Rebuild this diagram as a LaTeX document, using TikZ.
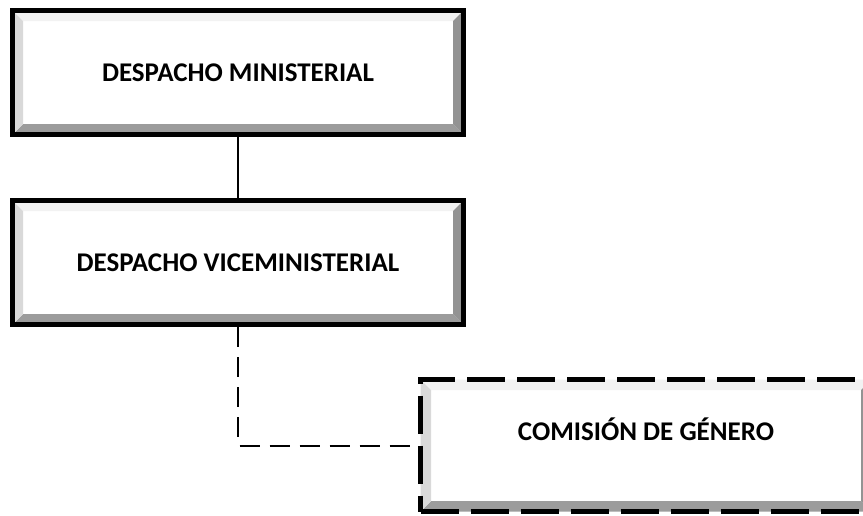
\documentclass[tikz,border=0pt]{standalone}
\usepackage{fontspec}
\setmainfont{Carlito}
\usetikzlibrary{positioning}

\definecolor{bevtop}{HTML}{F2F2F2}
\definecolor{bevleft}{HTML}{D9D9D9}
\definecolor{bevright}{HTML}{939393}
\definecolor{bevbottom}{HTML}{9C9C9C}

\begin{document}
\begin{tikzpicture}[
    x=1pt, y=-1pt,
    bevel/.style={path picture={
        \fill[bevtop] (path picture bounding box.north west) -- (path picture bounding box.north east)
            -- ([xshift=-#1,yshift=-#1]path picture bounding box.north east) -- ([xshift=#1,yshift=-#1]path picture bounding box.north west) -- cycle;
        \fill[bevbottom] (path picture bounding box.south west) -- (path picture bounding box.south east)
            -- ([xshift=-#1,yshift=#1]path picture bounding box.south east) -- ([xshift=#1,yshift=#1]path picture bounding box.south west) -- cycle;
        \fill[bevleft] (path picture bounding box.south west) -- ([xshift=#1,yshift=#1]path picture bounding box.south west)
            -- ([xshift=#1,yshift=-#1]path picture bounding box.north west) -- (path picture bounding box.north west) -- cycle;
        \fill[bevright] (path picture bounding box.south east) -- ([xshift=-#1,yshift=#1]path picture bounding box.south east)
            -- ([xshift=-#1,yshift=-#1]path picture bounding box.north east) -- (path picture bounding box.north east) -- cycle;
    }},
    unit/.style={draw, line width=5pt, fill=white, bevel=10.5pt, minimum width=451pt, minimum height=124pt,
        inner sep=0pt, align=center, font=\bfseries\fontsize{27}{31}\selectfont},
    dashed unit/.style={dash pattern=on 38pt off 12pt, minimum height=132pt, text height=18pt, text depth=28pt},
    link/.style={line width=2pt},
    dashed link/.style={line width=2pt, dash pattern=on 20pt off 10pt}
]
    \useasboundingbox (0,0) rectangle (863,515);

    \node[unit] (ministerial) at (238,72.5) {DESPACHO MINISTERIAL};
    \node[unit, below=61pt of ministerial] (vice) {DESPACHO VICEMINISTERIAL};
    \node[unit, dashed unit, below right=50pt and -48pt of vice] (comision) {COMISIÓN DE GÉNERO};

    \draw[link] (ministerial) -- (vice);
    \draw[dashed link] (vice.south) |- (comision.west);
\end{tikzpicture}
\end{document}
